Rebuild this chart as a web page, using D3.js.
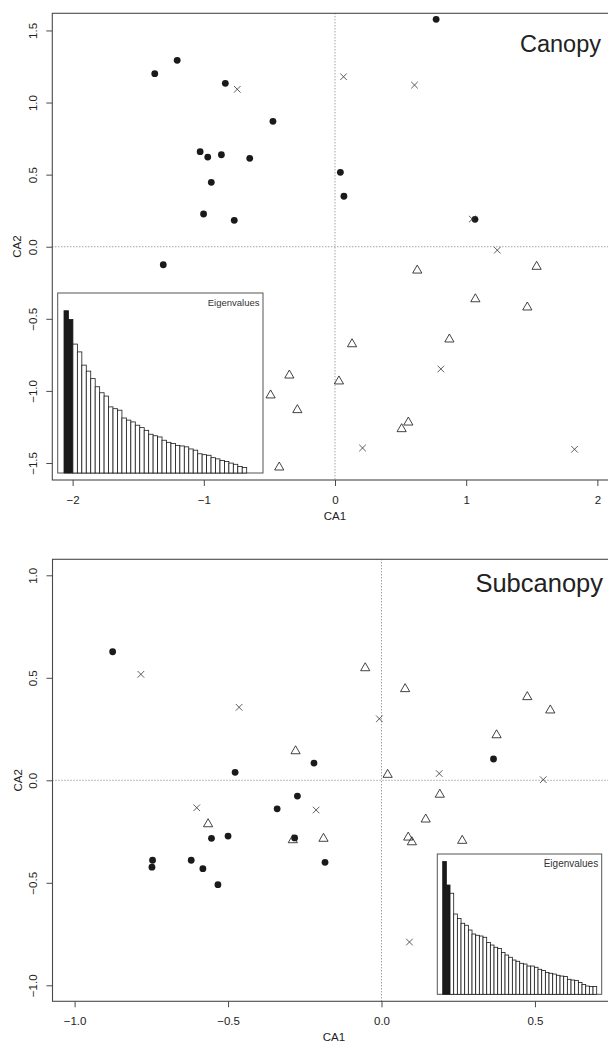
<!DOCTYPE html>
<html><head><meta charset="utf-8">
<script src="https://cdn.jsdelivr.net/npm/d3@7"></script>
<style>
body{margin:0;background:#fff}
svg{display:block}
text{font-family:"Liberation Sans",Arial,Helvetica,sans-serif}
</style>
</head><body>
<svg id="chart" width="608" height="1045"></svg>
<script>
// ---------------- DATA ----------------
// Canopy CA site scores [CA1, CA2]
const canopyCircles = [[-1.374,1.200],[-1.203,1.293],[-0.836,1.133],[-0.473,0.870],[-1.028,0.659],[-0.970,0.622],[-0.866,0.638],[-0.650,0.613],[-0.943,0.447],[-1.002,0.227],[-0.768,0.183],[0.041,0.516],[0.068,0.350],[0.771,1.577],[1.067,0.190],[-1.309,-0.125]];
const canopyCrosses = [[-0.745,1.092],[0.065,1.179],[0.606,1.121],[1.046,0.192],[1.237,-0.024],[0.807,-0.848],[0.210,-1.396],[1.826,-1.405]];
const canopyTriangles = [[0.627,-0.155],[1.537,-0.129],[1.070,-0.354],[1.466,-0.411],[0.872,-0.633],[0.130,-0.666],[-0.348,-0.883],[0.030,-0.924],[-0.491,-1.021],[-0.287,-1.123],[0.559,-1.209],[0.508,-1.255],[-0.425,-1.521]];
const canopyEigen = [0.540,0.511,0.429,0.403,0.359,0.339,0.314,0.287,0.267,0.256,0.220,0.214,0.209,0.183,0.176,0.170,0.159,0.151,0.142,0.129,0.124,0.120,0.109,0.102,0.098,0.092,0.090,0.087,0.080,0.076,0.064,0.061,0.059,0.051,0.047,0.042,0.038,0.033,0.029,0.022,0.018];

// Subcanopy CA site scores [CA1, CA2]
const subCircles = [[-0.876,0.627],[-0.477,0.039],[-0.220,0.084],[0.365,0.104],[-0.274,-0.077],[-0.340,-0.139],[-0.283,-0.281],[-0.500,-0.272],[-0.554,-0.283],[-0.184,-0.400],[-0.746,-0.390],[-0.748,-0.424],[-0.620,-0.390],[-0.582,-0.431],[-0.533,-0.509]];
const subCrosses = [[-0.784,0.517],[-0.464,0.356],[-0.007,0.300],[0.188,0.033],[0.527,0.003],[-0.602,-0.134],[-0.213,-0.145],[0.091,-0.789]];
const subTriangles = [[-0.053,0.554],[0.077,0.452],[0.475,0.413],[0.550,0.348],[0.375,0.227],[-0.280,0.149],[0.020,0.034],[-0.565,-0.207],[0.190,-0.063],[0.144,-0.184],[0.087,-0.272],[0.099,-0.295],[0.263,-0.288],[-0.189,-0.278],[-0.289,-0.285]];
const subEigen = [0.531,0.437,0.404,0.321,0.303,0.284,0.276,0.257,0.241,0.236,0.233,0.228,0.207,0.197,0.188,0.183,0.167,0.157,0.148,0.137,0.132,0.124,0.121,0.113,0.113,0.108,0.100,0.095,0.087,0.084,0.081,0.076,0.073,0.071,0.060,0.057,0.055,0.047,0.039,0.033,0.031,0.031];

const canopyXTicks = [-2,-1,0,1,2];
const canopyYTicks = [-1.5,-1.0,-0.5,0.0,0.5,1.0,1.5];
const subXTicks = [-1.0,-0.5,0.0,0.5];
const subYTicks = [-1.0,-0.5,0.0,0.5,1.0];
const titles = ["Canopy","Subcanopy"];
const xTitle = "CA1", yTitle = "CA2", insetTitle = "Eigenvalues";

// ---------------- DRAW ----------------
const svg = d3.select("#chart");
const AX = "#4a4a4a", TXT = "#222";
const fmt = d => v => (v < 0 ? "\u2212" : "") + Math.abs(v).toFixed(d);

function panel(cfg){
  const g = svg.append("g");
  const x = d3.scaleLinear().domain(cfg.xd).range(cfg.xr);
  const y = d3.scaleLinear().domain(cfg.yd).range(cfg.yr);
  const [x0,x1] = cfg.xr, [yb,yt] = cfg.yr;

  // zero lines
  g.append("line").attr("x1",x(0)).attr("x2",x(0)).attr("y1",yt).attr("y2",yb)
    .attr("stroke","#555").attr("stroke-width",0.8).attr("stroke-dasharray","1,2");
  g.append("line").attr("x1",x0).attr("x2",x1).attr("y1",y(0)).attr("y2",y(0))
    .attr("stroke","#555").attr("stroke-width",0.8).attr("stroke-dasharray","1,2");

  // box
  g.append("rect").attr("x",x0).attr("y",yt).attr("width",x1-x0).attr("height",yb-yt)
    .attr("fill","none").attr("stroke",AX).attr("stroke-width",1.1);

  // axes
  const ax = g.append("g").attr("transform",`translate(0,${yb})`)
    .call(d3.axisBottom(x).tickValues(cfg.xt).tickFormat(fmt(cfg.xdig)).tickSize(6).tickPadding(10));
  const ay = g.append("g").attr("transform",`translate(${x0},0)`)
    .call(d3.axisLeft(y).tickValues(cfg.yt).tickFormat(fmt(1)).tickSize(6));
  [ax,ay].forEach(a=>{
    a.select(".domain").remove();
    a.selectAll(".tick line").attr("stroke",AX).attr("stroke-width",1);
    a.selectAll("text").attr("fill",TXT).attr("font-size",11.5).attr("font-family",null);
  });
  ay.selectAll("text").attr("x",null).attr("dy",null).attr("text-anchor","middle")
    .attr("transform","translate(-15.5,0) rotate(-90)");

  g.append("text").attr("x",cfg.xTitleX).attr("y",yb+39.5)
    .attr("text-anchor","middle").attr("font-size",11.5).attr("fill",TXT).text(xTitle);
  g.append("text").attr("transform",`translate(${x0-31},${(yt+yb)/2}) rotate(-90)`)
    .attr("text-anchor","middle").attr("font-size",11.5).attr("fill",TXT).text(yTitle);

  // points
  const pt = g.append("g");
  pt.selectAll("circle").data(cfg.circles).join("circle")
    .attr("cx",d=>x(d[0])).attr("cy",d=>y(d[1])).attr("r",3.4).attr("fill","#1a1a1a");
  const c = 3.3;
  pt.selectAll("path.cross").data(cfg.crosses).join("path").attr("class","cross")
    .attr("d",d=>{const px=x(d[0]),py=y(d[1]);return `M${px-c},${py-c}L${px+c},${py+c}M${px-c},${py+c}L${px+c},${py-c}`;})
    .attr("stroke","#333").attr("stroke-width",0.8).attr("fill","none");
  pt.selectAll("path.tri").data(cfg.triangles).join("path").attr("class","tri")
    .attr("d",d=>{const px=x(d[0]),py=y(d[1]);return `M${px},${py-4}L${px+4.6},${py+4}L${px-4.6},${py+4}Z`;})
    .attr("stroke","#222").attr("stroke-width",0.85).attr("fill","none");

  // title
  g.append("text").attr("x",cfg.titleX).attr("y",cfg.titleY).attr("text-anchor","end")
    .attr("font-size",cfg.titleSize).attr("fill",TXT).text(cfg.title);

  // eigenvalue inset
  const ins = cfg.inset;
  const ig = g.append("g");
  ig.append("rect").attr("x",ins.x0).attr("y",ins.y0).attr("width",ins.x1-ins.x0).attr("height",ins.y1-ins.y0)
    .attr("fill","#fff").attr("stroke","#555").attr("stroke-width",1);
  const bx = d3.scaleBand().domain(d3.range(cfg.eigen.length)).range([ins.b0,ins.b1]).padding(0);
  const by = d3.scaleLinear().domain([0,ins.ymax]).range([ins.y1,ins.y0]);
  ig.selectAll("rect.bar").data(cfg.eigen).join("rect").attr("class","bar")
    .attr("x",(d,i)=>bx(i)).attr("width",bx.bandwidth())
    .attr("y",d=>by(d)).attr("height",d=>by(0)-by(d))
    .attr("fill",(d,i)=>i<2?"#1a1a1a":"#fff").attr("stroke","#1a1a1a").attr("stroke-width",0.8);
  ig.append("text").attr("x",ins.x1-3.5).attr("y",ins.y0+12.5).attr("text-anchor","end")
    .attr("font-size",ins.fs).attr("fill","#333").text(insetTitle);
}

panel({xd:[-2.155,2.155], xr:[52.3,617.7], yd:[-1.618,1.619], yr:[480,13.3],
  xt:canopyXTicks, yt:canopyYTicks, xdig:0, xTitleX:335,
  circles:canopyCircles, crosses:canopyCrosses, triangles:canopyTriangles,
  title:titles[0], titleX:601, titleY:52, titleSize:23.5,
  eigen:canopyEigen, inset:{x0:57.7,x1:263,y0:293,y1:473,b0:64,b1:246.7,ymax:0.599,fs:9.5}});

panel({xd:[-1.072,1.072], xr:[52.5,710.5], yd:[-1.078,1.078], yr:[1001.3,559.3],
  xt:subXTicks, yt:subYTicks, xdig:1, xTitleX:334,
  circles:subCircles, crosses:subCrosses, triangles:subTriangles,
  title:titles[1], titleX:603, titleY:591.7, titleSize:25.5,
  eigen:subEigen, inset:{x0:437.3,x1:601.7,y0:854,y1:994.3,b0:442.7,b1:596.7,ymax:0.561,fs:10}});
</script>
</body></html>
